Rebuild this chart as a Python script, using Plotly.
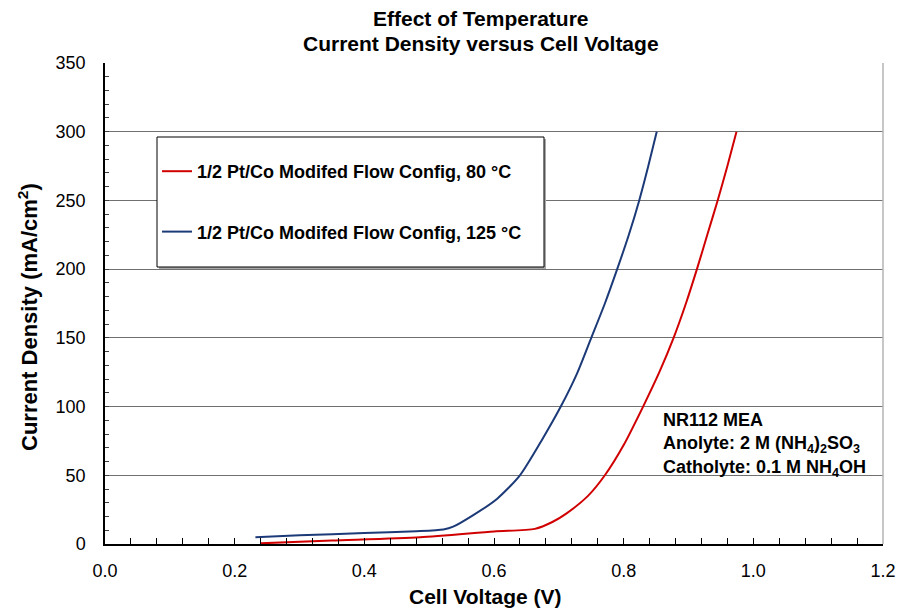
import plotly.graph_objects as go

# Polarisation data: cell voltage (V) vs current density (mA/cm^2)
volt_80c = [0.240, 0.350, 0.486, 0.600, 0.663, 0.690, 0.712, 0.745, 0.771, 0.800, 0.830,
            0.855, 0.877, 0.896, 0.913, 0.929, 0.945, 0.960, 0.974]
curr_80c = [0.5, 2.5, 4.9, 9.1, 11.0, 16.0, 22.3, 35.0, 50.0, 72.0, 100.0,
            125.0, 150.0, 175.0, 200.0, 225.0, 250.0, 275.0, 300.0]

volt_125c = [0.232, 0.300, 0.400, 0.480, 0.522, 0.537, 0.568, 0.605, 0.640, 0.673, 0.703,
             0.728, 0.750, 0.771, 0.790, 0.808, 0.824, 0.838, 0.851]
curr_125c = [5.0, 6.3, 8.0, 9.3, 10.6, 12.6, 21.0, 33.0, 50.0, 75.0, 100.0,
             124.0, 150.0, 175.0, 200.0, 225.0, 250.0, 275.0, 300.0]

name_80c = "1/2 Pt/Co Modifed Flow Config, 80 \u00b0C"
name_125c = "1/2 Pt/Co Modifed Flow Config, 125 \u00b0C"

title_lines = ["Effect of Temperature", "Current Density versus Cell Voltage"]
x_title = "Cell Voltage (V)"
y_title = "Current Density (mA/cm<sup>2</sup>)"
note_text = ("NR112 MEA<br>Anolyte: 2 M (NH<sub>4</sub>)<sub>2</sub>SO<sub>3</sub><br>"
             "Catholyte: 0.1 M NH<sub>4</sub>OH")

W, H = 911, 608
L, R, T, B = 105, 28, 63, 64
FONT = "Liberation Sans, Arial, sans-serif"


def px(x):
    return (x - L) / (W - L - R)


def py(y):
    return (H - B - y) / (H - T - B)


fig = go.Figure()
fig.add_trace(go.Scatter(x=volt_80c, y=curr_80c, mode="lines", name="<b>%s</b>" % name_80c,
                         line=dict(color="#d10000", width=2, shape="spline", smoothing=0.7),
                         legendgroup="a"))
fig.add_trace(go.Scatter(x=volt_125c, y=curr_125c, mode="lines", name="<b>%s</b>" % name_125c,
                         line=dict(color="#1c3a78", width=2, shape="spline", smoothing=0.7),
                         legendgroup="b"))

shapes = [
    # legend frame with a soft shadow
    dict(type="rect", xref="paper", yref="paper", x0=px(159), x1=px(546), y0=py(139), y1=py(269),
         line=dict(width=0), fillcolor="#a8a8a8", layer="above"),
    dict(type="rect", xref="paper", yref="paper", x0=px(157), x1=px(544), y0=py(137), y1=py(267),
         line=dict(color="black", width=1), fillcolor="white", layer="above"),
    # right border of the plot area
    dict(type="line", xref="paper", yref="paper", x0=1, x1=1, y0=0, y1=1,
         line=dict(color="#b4b4b4", width=1.5)),
]

annotations = [
    dict(text="<b>%s</b>" % title_lines[0], xref="paper", yref="paper", x=px(481), y=py(18),
         xanchor="center", yanchor="middle", showarrow=False, font=dict(size=21, color="black")),
    dict(text="<b>%s</b>" % title_lines[1], xref="paper", yref="paper", x=px(481), y=py(44),
         xanchor="center", yanchor="middle", showarrow=False, font=dict(size=21, color="black")),
    dict(text="<b>%s</b>" % x_title, xref="paper", yref="paper", x=px(485), y=py(596),
         xanchor="center", yanchor="middle", showarrow=False, font=dict(size=21, color="black")),
    dict(text="<b>%s</b>" % y_title, xref="paper", yref="paper", x=px(28), y=py(317),
         xanchor="center", yanchor="middle", showarrow=False, textangle=-90,
         font=dict(size=22, color="black")),
    dict(text="<b>%s</b>" % note_text, xref="paper", yref="paper", x=px(661), y=py(408),
         xanchor="left", yanchor="top", align="left", showarrow=False,
         font=dict(size=18, color="black")),
]

fig.update_layout(
    width=W, height=H,
    margin=dict(l=L, r=R, t=T, b=B, pad=0),
    paper_bgcolor="white", plot_bgcolor="white",
    font=dict(family=FONT, size=18, color="black"),
    showlegend=True,
    legend=dict(x=px(157), y=py(153), xanchor="left", yanchor="top",
                bgcolor="rgba(0,0,0,0)", borderwidth=0, tracegroupgap=34,
                font=dict(size=18, family=FONT, color="black"), itemwidth=30),
    shapes=shapes,
    annotations=annotations,
)

fig.update_xaxes(range=[0, 1.2], dtick=0.2, tickformat=".1f", showgrid=False, zeroline=False,
                 showline=True, linecolor="black", linewidth=1.5,
                 ticks="inside", ticklen=6, tickcolor="black", tickwidth=1,
                 minor=dict(dtick=0.04, ticks="inside", ticklen=6, tickcolor="black", tickwidth=1),
                 ticklabelstandoff=10, tickfont=dict(size=18))
fig.update_yaxes(range=[0, 350], dtick=50, showgrid=True, gridcolor="#707070", gridwidth=1.3,
                 zeroline=False, showline=True, linecolor="black", linewidth=1.5,
                 ticks="inside", ticklen=4, tickcolor="#404040", tickwidth=1,
                 minor=dict(dtick=10, ticks="inside", ticklen=4, tickcolor="#404040", tickwidth=1),
                 ticklabelstandoff=14, tickfont=dict(size=18))

fig.write_html("out.html")
